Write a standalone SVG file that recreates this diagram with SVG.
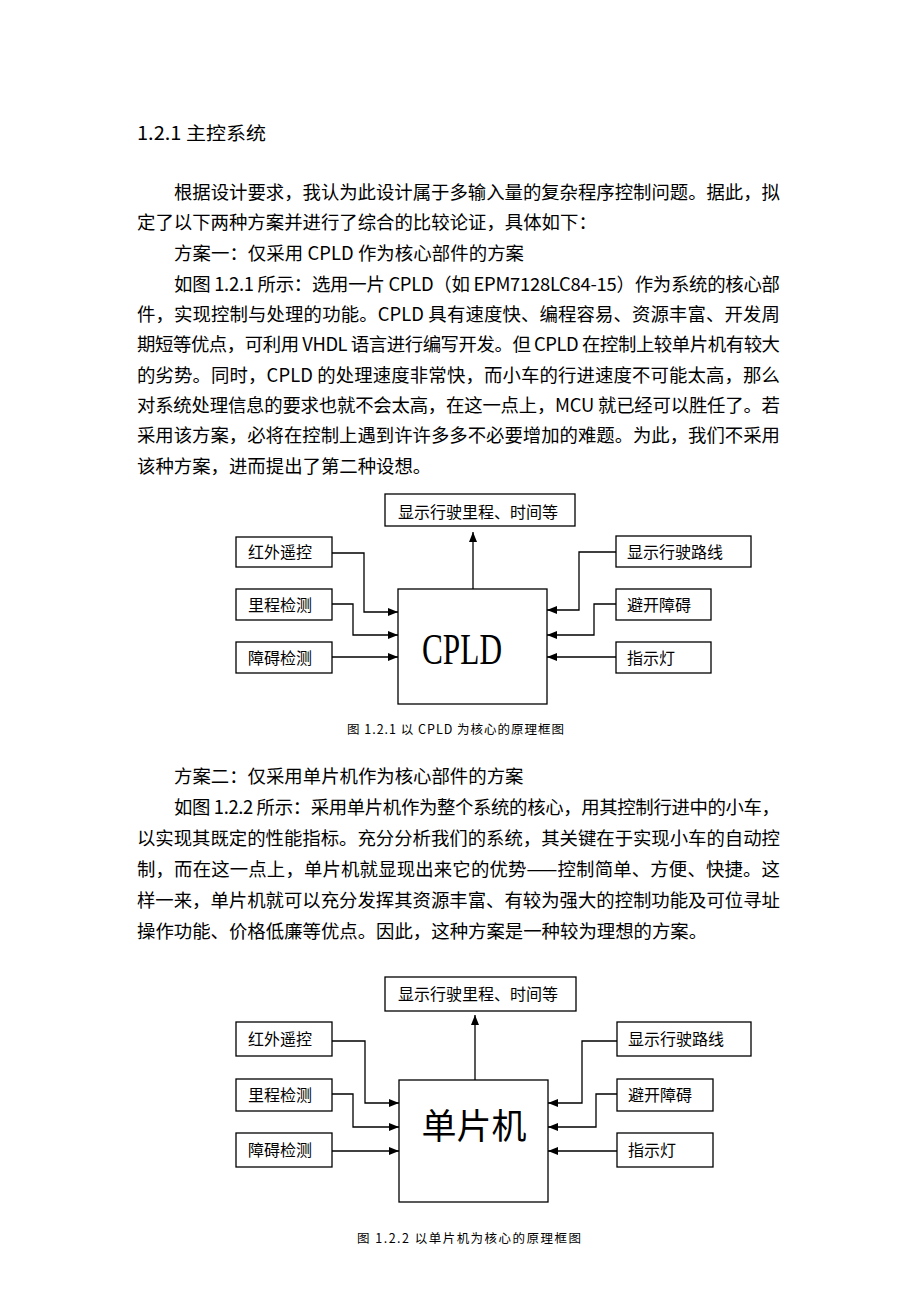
<svg xmlns="http://www.w3.org/2000/svg" width="920" height="1302" viewBox="0 0 920 1302">
<style>
.body{font-family:"Noto Sans CJK SC",sans-serif;font-size:18.4px;fill:#000}
.lbl{font-family:"Noto Sans CJK SC",sans-serif;font-size:16px;fill:#000}
.cap{font-family:"Noto Sans CJK SC",sans-serif;font-size:12.5px;fill:#000}
.box{fill:#fff;stroke:#000;stroke-width:1.3}
.wire{fill:none;stroke:#000;stroke-width:1.3}
</style>
<defs>
<marker id="ah" markerUnits="userSpaceOnUse" markerWidth="10" markerHeight="8" refX="10" refY="4" orient="auto">
<path d="M0,0 L10,4 L0,8 z" fill="#000"/>
</marker>
</defs>
<rect width="920" height="1302" fill="#fff"/>
<g id="text">
<text class="body" x="137" y="140" textLength="129" lengthAdjust="spacingAndGlyphs">1.2.1 主控系统</text>
<text class="body" x="174" y="199" textLength="606" lengthAdjust="spacing">根据设计要求，我认为此设计属于多输入量的复杂程序控制问题。据此，拟</text>
<text class="body" x="137" y="229">定了以下两种方案并进行了综合的比较论证，具体如下：</text>
<text class="body" x="174" y="260" textLength="350" lengthAdjust="spacing">方案一：仅采用 CPLD 作为核心部件的方案</text>
<text class="body" x="174" y="291" textLength="606" lengthAdjust="spacing">如图 1.2.1 所示：选用一片 CPLD（如 EPM7128LC84-15）作为系统的核心部</text>
<text class="body" x="137" y="321" textLength="643" lengthAdjust="spacing">件，实现控制与处理的功能。CPLD 具有速度快、编程容易、资源丰富、开发周</text>
<text class="body" x="137" y="351" textLength="643" lengthAdjust="spacing">期短等优点，可利用 VHDL 语言进行编写开发。但 CPLD 在控制上较单片机有较大</text>
<text class="body" x="137" y="382" textLength="643" lengthAdjust="spacing">的劣势。同时，CPLD 的处理速度非常快，而小车的行进速度不可能太高，那么</text>
<text class="body" x="137" y="412" textLength="643" lengthAdjust="spacing">对系统处理信息的要求也就不会太高，在这一点上，MCU 就已经可以胜任了。若</text>
<text class="body" x="137" y="442" textLength="643" lengthAdjust="spacing">采用该方案，必将在控制上遇到许许多多不必要增加的难题。为此，我们不采用</text>
<text class="body" x="137" y="473">该种方案，进而提出了第二种设想。</text>
<text class="cap" x="347" y="734" textLength="217" lengthAdjust="spacing">图 1.2.1 以 CPLD 为核心的原理框图</text>
<text class="body" x="174" y="783">方案二：仅采用单片机作为核心部件的方案</text>
<text class="body" x="174" y="814" textLength="606" lengthAdjust="spacing">如图 1.2.2 所示：采用单片机作为整个系统的核心，用其控制行进中的小车，</text>
<text class="body" x="137" y="845" textLength="643" lengthAdjust="spacing">以实现其既定的性能指标。充分分析我们的系统，其关键在于实现小车的自动控</text>
<text class="body" x="137" y="876" textLength="643" lengthAdjust="spacing">制，而在这一点上，单片机就显现出来它的优势——控制简单、方便、快捷。这</text>
<text class="body" x="137" y="907" textLength="643" lengthAdjust="spacing">样一来，单片机就可以充分发挥其资源丰富、有较为强大的控制功能及可位寻址</text>
<text class="body" x="137" y="938">操作功能、价格低廉等优点。因此，这种方案是一种较为理想的方案。</text>
<text class="cap" x="357" y="1243" textLength="224" lengthAdjust="spacing">图 1.2.2 以单片机为核心的原理框图</text>
</g>
<g id="connectors1">
<path class="wire" d="M473,589 V532" marker-end="url(#ah)"/>
<path class="wire" d="M332,553 H364 V612 H398" marker-end="url(#ah)"/>
<path class="wire" d="M332,604 H353 V635 H398" marker-end="url(#ah)"/>
<path class="wire" d="M332,657 H398" marker-end="url(#ah)"/>
<path class="wire" d="M616,552 H579 V610 H547" marker-end="url(#ah)"/>
<path class="wire" d="M616,604 H594 V635 H547" marker-end="url(#ah)"/>
<path class="wire" d="M616,657 H547" marker-end="url(#ah)"/>
</g>
<g id="d1-top"><rect class="box" x="385" y="494" width="190" height="32"/><text class="lbl" x="398" y="518">显示行驶里程、时间等</text></g>
<g id="d1-cpld"><rect class="box" x="398" y="589" width="149" height="115"/><text x="422" y="664" textLength="80" lengthAdjust="spacingAndGlyphs" style="font-family:'Liberation Serif',serif;font-size:45px">CPLD</text></g>
<g id="d1-ir"><rect class="box" x="236" y="537" width="96" height="30"/><text class="lbl" x="248" y="558">红外遥控</text></g>
<g id="d1-odo"><rect class="box" x="236" y="589" width="96" height="31"/><text class="lbl" x="248" y="611">里程检测</text></g>
<g id="d1-obs"><rect class="box" x="236" y="642" width="96" height="31"/><text class="lbl" x="248" y="664">障碍检测</text></g>
<g id="d1-route"><rect class="box" x="616" y="536" width="135" height="31"/><text class="lbl" x="627" y="558">显示行驶路线</text></g>
<g id="d1-avoid"><rect class="box" x="616" y="589" width="95" height="31"/><text class="lbl" x="627" y="611">避开障碍</text></g>
<g id="d1-led"><rect class="box" x="616" y="642" width="95" height="31"/><text class="lbl" x="627" y="664">指示灯</text></g>
<g id="connectors2">
<path class="wire" d="M475,1080 V1015" marker-end="url(#ah)"/>
<path class="wire" d="M332,1041 H365 V1103 H399" marker-end="url(#ah)"/>
<path class="wire" d="M332,1094 H353 V1127 H399" marker-end="url(#ah)"/>
<path class="wire" d="M332,1151 H399" marker-end="url(#ah)"/>
<path class="wire" d="M617,1041 H582 V1103 H548" marker-end="url(#ah)"/>
<path class="wire" d="M617,1094 H596 V1127 H548" marker-end="url(#ah)"/>
<path class="wire" d="M617,1151 H548" marker-end="url(#ah)"/>
</g>
<g id="d2-top"><rect class="box" x="385" y="977" width="191" height="34"/><text class="lbl" x="398" y="1000">显示行驶里程、时间等</text></g>
<g id="d2-mcu"><rect class="box" x="399" y="1080" width="149" height="122"/><text x="474" y="1139" text-anchor="middle" style="font-family:'Noto Sans CJK SC',sans-serif;font-size:35px">单片机</text></g>
<g id="d2-ir"><rect class="box" x="236" y="1022" width="96" height="34"/><text class="lbl" x="248" y="1045">红外遥控</text></g>
<g id="d2-odo"><rect class="box" x="236" y="1079" width="96" height="32"/><text class="lbl" x="248" y="1101">里程检测</text></g>
<g id="d2-obs"><rect class="box" x="236" y="1133" width="96" height="34"/><text class="lbl" x="248" y="1156">障碍检测</text></g>
<g id="d2-route"><rect class="box" x="617" y="1022" width="134" height="34"/><text class="lbl" x="628" y="1045">显示行驶路线</text></g>
<g id="d2-avoid"><rect class="box" x="617" y="1079" width="96" height="32"/><text class="lbl" x="628" y="1101">避开障碍</text></g>
<g id="d2-led"><rect class="box" x="617" y="1133" width="96" height="34"/><text class="lbl" x="628" y="1156">指示灯</text></g>
</svg>
